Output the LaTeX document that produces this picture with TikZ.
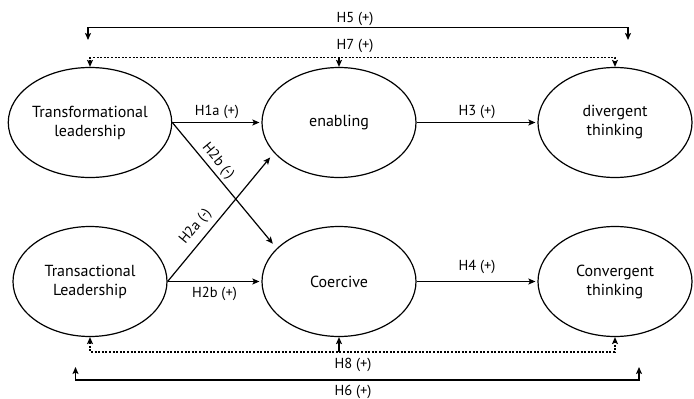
\documentclass[tikz,border=0pt]{standalone}
\usepackage{fontspec}
\setmainfont{PT Sans}
\usetikzlibrary{arrows.meta,calc,shapes.geometric}
\begin{document}
\begin{tikzpicture}[x=1pt,y=-1pt,
  var/.style={draw,ellipse,line width=1.2pt,minimum width=154pt,minimum height=110pt,inner sep=0pt,align=center,font=\fontsize{16}{19}\selectfont},
  lbl/.style={font=\fontsize{14.5}{16}\selectfont,inner sep=1pt},
  arr/.style={line width=1.2pt,-{Stealth[length=7pt,width=6pt,inset=1.5pt]}},
  biarr/.style={line width=1.2pt,{Stealth[length=7pt,width=6pt,inset=1.5pt]}-{Stealth[length=7pt,width=6pt,inset=1.5pt]}},
  dotl/.style={dash pattern=on 2pt off 1.6pt}
]
\useasboundingbox (0,0) rectangle (694,399);
\node[var] (TF) at (90,122.5) {Transformational\\leadership};
\node[var] (EN) at (339,122.5) {enabling};
\node[var] (DT) at (615,122.5) {divergent\\thinking};
\node[var] (TA) at (90,281.5) {Transactional\\Leadership};
\node[var] (CO) at (339,281.5) {Coercive};
\node[var] (CT) at (615,281.5) {Convergent\\thinking};

\draw[arr,shorten >=2pt] (TF.east) -- node[lbl,above=2pt] {H1a (+)} (EN.west);
\draw[arr,shorten >=2pt] (EN.east) -- node[lbl,above=2pt] {H3 (+)} (DT.west);
\draw[arr,shorten >=2pt] (TA.east) -- node[lbl,below=4pt] {H2b (+)} (CO.west);
\draw[arr,shorten >=2pt] (CO.east) -- node[lbl,above=6pt] {H4 (+)} (CT.west);

\draw[arr,shorten >=6pt] (TF.east) -- node[lbl,sloped,above=2pt,pos=0.36] {H2b (-)} (CO.152);
\draw[arr,shorten >=6pt] (TA.east) -- node[lbl,sloped,above=5pt,pos=0.36] {H2a (-)} (EN.205);

% H5
\coordinate (h5a) at (88,40);
\coordinate (h5b) at (628,40);
\coordinate (h5y) at (0,27.5);
\draw[biarr] (h5a) -- (h5a|-h5y) -- (h5b|-h5y) -- (h5b);
\node[lbl] (H5) at (355,19) {H5 (+)};
% H7
\coordinate (h7y) at (0,57.5);
\draw[biarr,dotl] (TF.north) -- (TF.north|-h7y) -- (DT.north|-h7y) -- (DT.north);
\draw[arr] (EN.north|-h7y) -- (EN.north);
\node[lbl] (H7) at (355,46) {H7 (+)};
% H8
\coordinate (h8y) at (0,352);
\draw[biarr,dotl] (TA.south) -- (TA.south|-h8y) -- (CT.south|-h8y) -- (CT.south);
\draw[arr] (CO.south|-h8y) -- (CO.south);
\node[lbl] (H8) at (353,365) {H8 (+)};
% H6
\coordinate (h6a) at (75.5,367);
\coordinate (h6b) at (639,367);
\coordinate (h6y) at (0,380);
\draw[biarr] (h6a) -- (h6a|-h6y) -- (h6b|-h6y) -- (h6b);
\node[lbl] (H6) at (353,392) {H6 (+)};
\end{tikzpicture}
\end{document}
